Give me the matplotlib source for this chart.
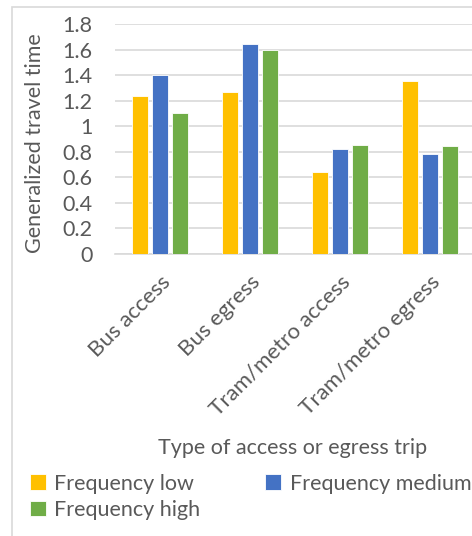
import matplotlib.pyplot as plt
import matplotlib.patches as mpatches
import numpy as np

plt.rcParams['font.family'] = ['Lato', 'DejaVu Sans']

categories = ['Bus access', 'Bus egress', 'Tram/metro access', 'Tram/metro egress']
freq_low = [1.24, 1.265, 0.64, 1.35]
freq_medium = [1.40, 1.645, 0.825, 0.78]
freq_high = [1.10, 1.60, 0.85, 0.845]
y_ticks = [0, 0.2, 0.4, 0.6, 0.8, 1, 1.2, 1.4, 1.6, 1.8]
y_tick_labels = ['0', '0.2', '0.4', '0.6', '0.8', '1', '1.2', '1.4', '1.6', '1.8']

text_color = '#595959'
grid_color = '#D9D9D9'
fs = 15.5

fig = plt.figure(figsize=(4.72, 5.36), dpi=100)
W, H = 472, 536

# chart frame, running off the right and bottom edges
fig.patches.append(mpatches.Rectangle((12 / W, -0.1), 1.2, 1 - 7 / H + 0.1,
                                      transform=fig.transFigure, fill=False,
                                      edgecolor=grid_color, linewidth=1.2))

ax = fig.add_axes([115 / W, 1 - 254 / H, 360 / W, 230 / H])

x = np.arange(len(categories))
width = 0.18
offset = 0.222
b_low = ax.bar(x - offset, freq_low, width, color='#FFC000', edgecolor='white',
               linewidth=0.6, label='Frequency low', zorder=3)
b_med = ax.bar(x, freq_medium, width, color='#4472C4', edgecolor='white',
               linewidth=0.6, label='Frequency medium', zorder=3)
b_high = ax.bar(x + offset, freq_high, width, color='#70AD47', edgecolor='white',
                linewidth=0.6, label='Frequency high', zorder=3)

ax.set_xlim(-0.5, len(categories) - 0.5)
ax.set_ylim(0, 1.8)
ax.set_yticks(y_ticks)
ax.set_yticklabels(y_tick_labels)
ax.yaxis.grid(True, color=grid_color, linewidth=1.2)
ax.set_axisbelow(True)
for side in ['top', 'right', 'left']:
    ax.spines[side].set_visible(False)
ax.spines['bottom'].set_color(grid_color)
ax.spines['bottom'].set_linewidth(1.2)
ax.tick_params(axis='both', length=0, labelsize=fs, labelcolor=text_color)
ax.tick_params(axis='y', pad=16)

ax.set_xticks(x)
ax.set_xticklabels(categories, rotation=45, ha='right', rotation_mode='anchor',
                   fontsize=16)
ax.tick_params(axis='x', pad=13)

ax.set_ylabel('Generalized travel time', fontsize=fs, color=text_color)
ax.yaxis.set_label_coords(-0.222, 0.48)
ax.yaxis.label.set_va('center')

ax.set_xlabel('Type of access or egress trip', fontsize=fs, color=text_color)
ax.xaxis.set_label_coords(0.494, -0.845)
ax.xaxis.label.set_va('center')

fig.legend([b_low, b_high, b_med], ['Frequency low', 'Frequency high', 'Frequency medium'],
           ncol=2, loc='upper left', bbox_to_anchor=(21 / W, 1 - 465 / H),
           frameon=False, fontsize=fs, labelcolor=text_color,
           handlelength=0.75, handleheight=0.75, handletextpad=0.4,
           columnspacing=3.0, labelspacing=0.3, borderaxespad=0)

fig.savefig('out.png', dpi=100)
